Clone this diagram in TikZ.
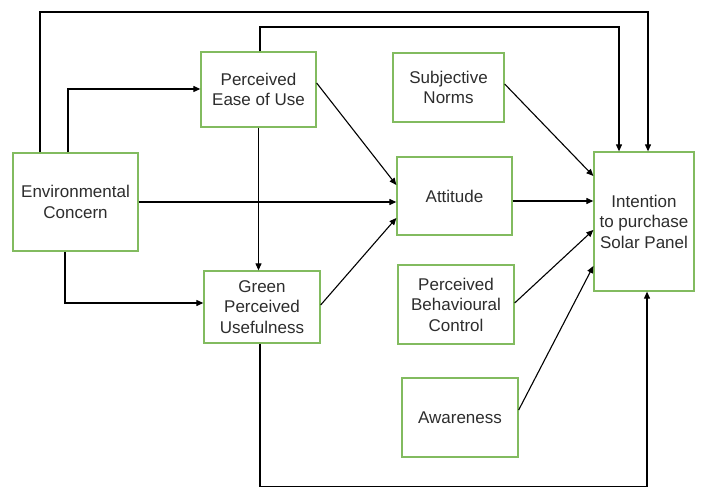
\documentclass[tikz,border=0pt]{standalone}
\usepackage{fontspec}
\setmainfont{Liberation Sans}
\usetikzlibrary{arrows.meta,calc}
\definecolor{boxgreen}{RGB}{130,187,95}
\definecolor{txtgray}{RGB}{45,45,45}
\tikzset{
  box/.style={draw=boxgreen, line width=1.3pt, fill=white, rectangle, align=center,
    inner sep=0pt, text=txtgray, font=\fontsize{17}{20.5}\selectfont},
  arr/.style={draw=black, line width=1.1pt, -{Triangle[length=7pt,width=6pt]}}
}
\begin{document}
\begin{tikzpicture}[x=1pt,y=-1pt]
\useasboundingbox (0,0) rectangle (701,489);
\node[box, minimum width=125pt, minimum height=98pt] (env) at (75.5,202) {Environmental\\Concern};
\node[box, minimum width=115pt, minimum height=75pt] (ease) at (258.5,89.5) {Perceived\\Ease of Use};
\node[box, minimum width=116pt, minimum height=72pt] (green) at (262,307) {Green\\Perceived\\Usefulness};
\node[box, minimum width=111pt, minimum height=69pt] (subj) at (448.5,87.5) {Subjective\\Norms};
\node[box, minimum width=115pt, minimum height=78pt] (att) at (454.5,196) {Attitude};
\node[box, minimum width=116pt, minimum height=79pt] (pbc) at (456,304.5) {Perceived\\Behavioural\\Control};
\node[box, minimum width=116pt, minimum height=79pt] (aware) at (460,417.5) {Awareness};
\node[box, minimum width=100pt, minimum height=139pt] (intent) at (644,221.5) {Intention\\to purchase\\Solar Panel};

\coordinate (c1) at (648,12);
\coordinate (c2) at (619,27);
\coordinate (c3) at (647,486.5);

\draw[arr] ($(env.north)+(-35.5,0)$) |- (c1) -| ($(intent.north)+(4,0)$);
\draw[arr] ($(ease.north)+(1.5,0)$) |- (c2) -| ($(intent.north)+(-25,0)$);
\draw[arr] ($(env.north)+(-7.5,0)$) |- ($(ease.west)+(0,-0.5)$);
\draw[arr] (env.east) -- (env.east -| att.west);
\draw[arr] ($(env.south)+(-10.5,0)$) |- ($(green.west)+(0,-4)$);
\draw[arr] (ease.south) -- (ease.south |- green.north);
\draw[arr] ($(ease.east)+(0,-6.5)$) -- ($(att.west)+(0,-11)$);
\draw[arr] ($(green.east)+(0,-2)$) -- ($(att.west)+(0,22)$);
\draw[arr] ($(subj.east)+(0,-3.5)$) -- ($(intent.west)+(0,-45.5)$);
\draw[arr] ($(att.east)+(0,5)$) -- ($(intent.west)+(0,-20.5)$);
\draw[arr] ($(pbc.east)+(0,-1.5)$) -- ($(intent.west)+(0,8.5)$);
\draw[arr] ($(aware.east)+(0,-7.5)$) -- ($(intent.west)+(0,44.5)$);
\draw[arr] ($(green.south)+(-2,0)$) |- (c3) -| ($(intent.south)+(3,0)$);
\end{tikzpicture}
\end{document}
